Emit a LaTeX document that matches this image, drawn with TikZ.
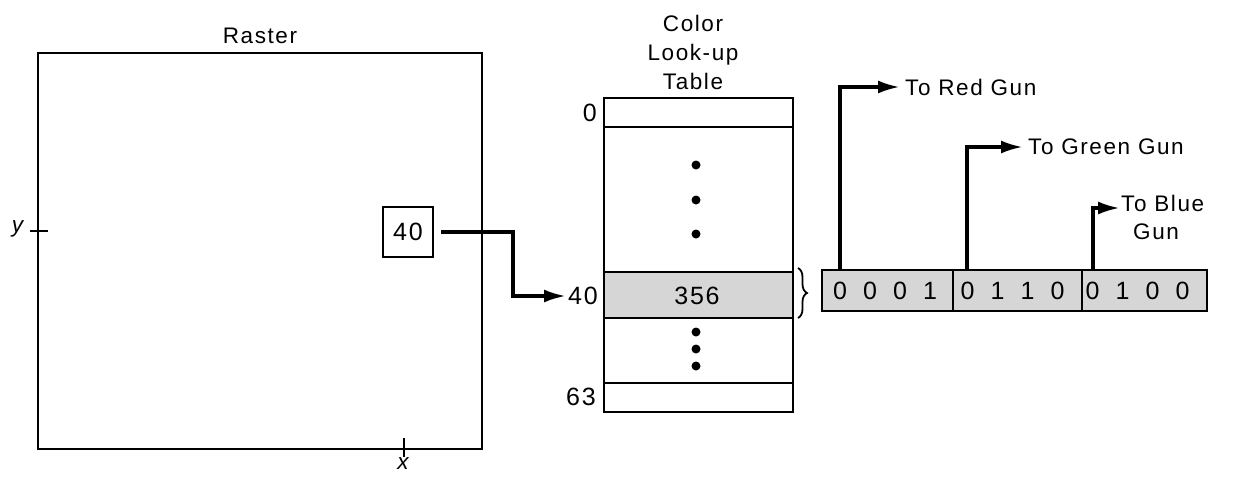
\documentclass[tikz,border=0pt]{standalone}
\usepackage{fontspec}
\setmainfont{Liberation Sans}[LetterSpace=7]
\usetikzlibrary{arrows.meta,decorations.pathreplacing,calc}
\newcommand\bitrow[4]{\makebox[30pt]{#1}\makebox[30pt]{#2}\makebox[30pt]{#3}\makebox[30pt]{#4}}
\tikzset{
  outline/.style={draw=black, line width=1.6pt},
  lbl/.style={font=\fontsize{22.5}{29}\selectfont, inner sep=2pt},
  numf/.style={font=\fontsize{25}{29}\selectfont},
  big/.style={draw=black, line width=3.4pt, -{Latex[length=22pt,width=13pt]}},
  cell/.style={outline, fill=black!16, minimum height=41pt, inner sep=0pt, numf},
  dot/.style={fill=black}
}
\begin{document}
\begin{tikzpicture}[x=1pt,y=-1pt]
\useasboundingbox (0,0) rectangle (1235,480);
% Raster
\draw[outline] (38,53) rectangle (482,449);
\node[lbl] (rastert) at (260,36) {Raster};
\draw[line width=1.8pt] (30,231) -- (48,231);
\node[lbl, anchor=east] (ylbl) at (28,229) {\textit{y}};
\draw[line width=1.8pt] (404,438) -- (404,457);
\node[lbl, anchor=north] (xlbl) at (404,455) {\textit{x}};
\node[outline, minimum size=50pt, inner sep=0pt, numf] (b40) at (408,232) {40};
% Table
\node[lbl, align=center] (ttitle) at (693,52) {Color\\Look-up\\Table};
\fill[black!16] (604,272) rectangle (793,318);
\draw[outline] (604,98) rectangle (793,412);
\draw[outline] (604,127) -- (793,127);
\draw[outline] (604,272) -- (793,272);
\draw[outline] (604,318) -- (793,318);
\draw[outline] (604,383) -- (793,383);
\node[numf] (v356) at (697,296) {356};
\node[lbl, numf, anchor=east] (l0) at (599,113) {0};
\node[lbl, numf, anchor=east] (l40) at (600,296) {40};
\node[lbl, numf, anchor=east] (l63) at (598,397) {63};
\foreach \yy in {165,200,234,332,349,366} \fill[dot] (696,\yy) circle (4.5pt);
% connector raster -> table
\coordinate (k) at (513,296);
\draw[big, shorten <=7pt] (b40.east) -| (k) -- (l40.west);
% brace
\draw[line width=1.8pt, decorate, decoration={brace, amplitude=9pt}] (798,268) -- (798,318);
% register
\node[cell, minimum width=131pt] (c1) at (887.5,290.5) {\hspace*{-5pt}\bitrow0001};
\node[cell, minimum width=129pt] (c2) at (1017.5,290.5) {\hspace*{-10pt}\bitrow0110};
\node[cell, minimum width=125pt] (c3) at (1144.5,290.5) {\hspace*{-14pt}\bitrow0100};
% gun labels
\node[lbl, anchor=west, inner sep=5pt] (red) at (900,87) {To Red Gun};
\node[lbl, anchor=west, inner sep=5pt] (green) at (1023,147) {To Green Gun};
\node[lbl, anchor=north west, inner sep=1pt, align=left] (blue) at (1120,194) {To Blue\\[-1pt]\hspace*{12pt}Gun};
\coordinate (blueend) at (1120,208);
\coordinate (r1) at (840,270);
\coordinate (r2) at (967,270);
\coordinate (r3) at (1093,270);
\draw[big] (r1) |- (red.west);
\draw[big] (r2) |- (green.west);
\draw[big] (r3) |- (blueend);
\end{tikzpicture}
\end{document}
